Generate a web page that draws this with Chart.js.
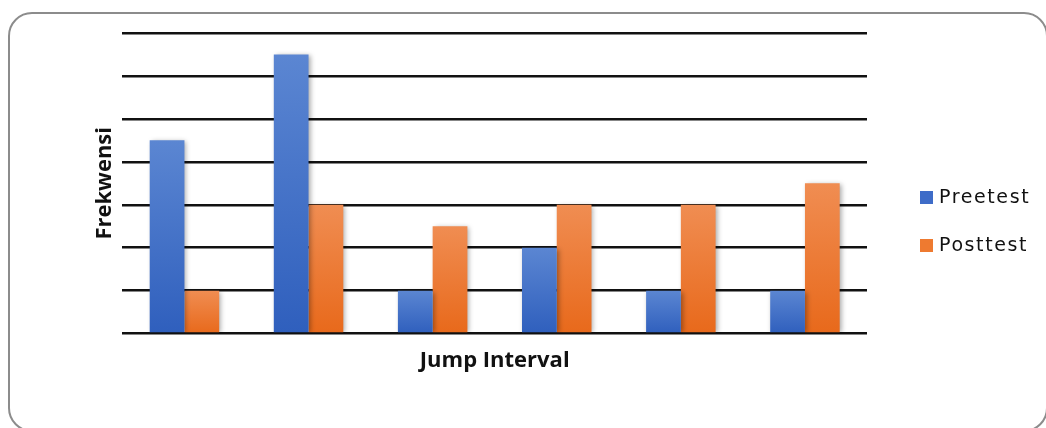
<!DOCTYPE html>
<html>
<head>
<meta charset="utf-8">
<script src="https://cdn.jsdelivr.net/npm/chart.js@4"></script>
<style>
  html, body { margin: 0; padding: 0; background: #fff; }
  #wrap { position: relative; width: 1046px; height: 428px; overflow: hidden; }
  #frame {
    position: absolute; left: 8px; top: 12px; width: 1040px; height: 420px;
    border: 2px solid #8c8c8c; border-radius: 24px; box-sizing: border-box;
  }
  canvas { position: absolute; left: 0; top: 0; }
  .legend { position: absolute; left: 920px; font-family: "DejaVu Sans", sans-serif; font-size: 19px; letter-spacing: 1.6px; color: #111; }
  .legend span.box { display: inline-block; width: 13px; height: 13px; margin-right: 6px; vertical-align: -1px; }
</style>
</head>
<body>
<div id="wrap">
  <div id="frame"></div>
  <canvas id="chart" width="1046" height="428"></canvas>
  <div class="legend" style="top:185px"><span class="box" style="background:#3e6cc8"></span>Preetest</div>
  <div class="legend" style="top:233px"><span class="box" style="background:#ee7a30"></span>Posttest</div>
</div>
<script>
const categories = ['Interval 1', 'Interval 2', 'Interval 3', 'Interval 4', 'Interval 5', 'Interval 6']
const preetest = [4.5, 6.5, 1, 2, 1, 1]
const posttest = [1, 3, 2.5, 3, 3, 3.5]
const yMax = 7

// vertical gradient per bar, lighter at the top
const barFill = (top, bottom) => (ctx) => {
  const chart = ctx.chart
  if (!chart.chartArea || ctx.parsed === undefined) return bottom
  const y = chart.scales.y
  const y0 = y.getPixelForValue(ctx.parsed.y)
  const y1 = y.getPixelForValue(0)
  const g = chart.ctx.createLinearGradient(0, y0, 0, y1)
  g.addColorStop(0, top)
  g.addColorStop(1, bottom)
  return g
}

const barShadow = {
  id: 'barShadow',
  beforeDatasetsDraw(chart) {
    const c = chart.ctx
    c.save()
    c.shadowColor = 'rgba(0,0,0,0.35)'
    c.shadowBlur = 5
    c.shadowOffsetX = 2
    c.shadowOffsetY = 1
  },
  afterDatasetsDraw(chart) {
    chart.ctx.restore()
  }
}

const titleFont = { family: 'Open Sans', weight: 'bold', size: 22 }

new Chart(document.querySelector('#chart'), {
  type: 'bar',
  data: {
    labels: categories,
    datasets: [
      { label: 'Preetest', data: preetest, backgroundColor: barFill('#5b86d2', '#2f5fbd') },
      { label: 'Posttest', data: posttest, backgroundColor: barFill('#f08d52', '#e8691b') }
    ]
  },
  options: {
    responsive: false,
    animation: false,
    layout: { padding: { left: 88, right: 179, top: 33, bottom: 50 } },
    datasets: { bar: { categoryPercentage: 0.56, barPercentage: 1 } },
    plugins: { legend: { display: false }, tooltip: { enabled: false } },
    scales: {
      x: {
        grid: { display: false },
        border: { display: false },
        ticks: { display: false },
        title: { display: true, text: 'Jump Interval', color: '#111', font: titleFont, padding: { top: 6, bottom: 4 } }
      },
      y: {
        min: 0,
        max: yMax,
        ticks: { display: false, stepSize: 1 },
        grid: { color: '#111', lineWidth: 2.5, drawTicks: false },
        border: { display: false },
        title: { display: true, text: 'Frekwensi', color: '#111', font: titleFont, padding: { top: 4, bottom: 4 } }
      }
    }
  },
  plugins: [barShadow]
})
</script>
</body>
</html>
